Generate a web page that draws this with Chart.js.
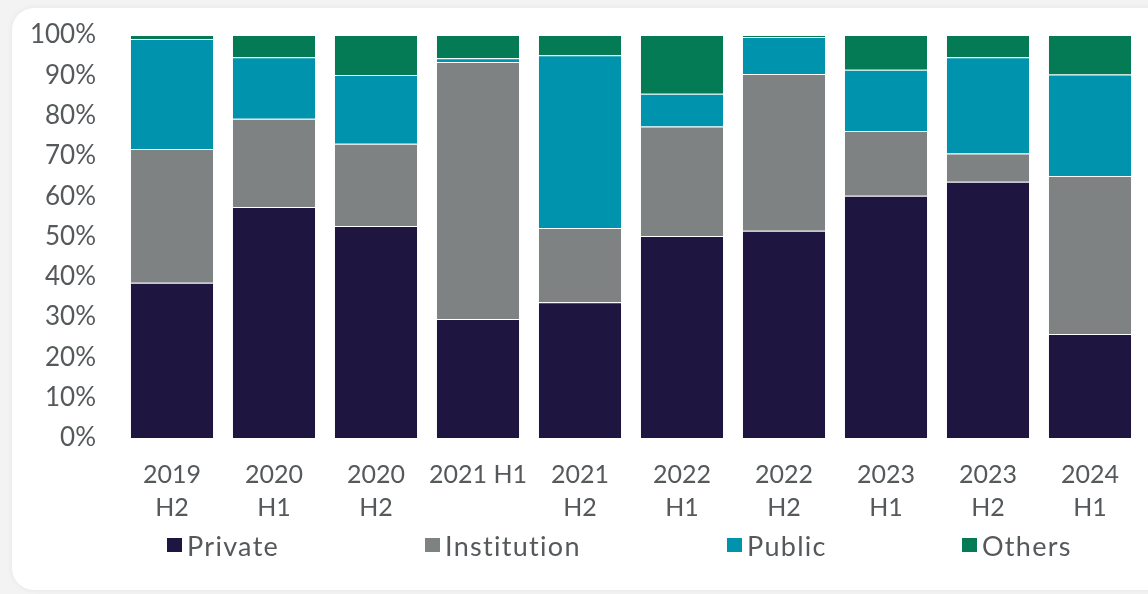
<!DOCTYPE html>
<html>
<head>
<meta charset="utf-8">
<script src="https://cdn.jsdelivr.net/npm/chart.js@4"></script>
<style>
  html, body { margin: 0; padding: 0; background: #f3f3f3; width: 1148px; height: 594px; overflow: hidden; }
  .card { position: absolute; left: 12px; top: 8px; width: 1160px; height: 582px; background: #fff; border-radius: 22px; box-shadow: 0 0 6px rgba(0,0,0,0.06); }
  .wrap { position: absolute; left: 0; top: 0; width: 1148px; height: 594px; }
  #legend { position: absolute; top: 528px; left: 0; width: 1148px; height: 34px; font-family: Lato, sans-serif; font-size: 27px; letter-spacing: 1.3px; color: #55595b; }
  #legend span.item { position: absolute; top: 0; display: flex; align-items: center; height: 34px; white-space: nowrap; }
  #legend i { display: inline-block; width: 15px; height: 14px; margin-right: 5px; }
</style>
</head>
<body>
<div class="card"></div>
<div class="wrap"><canvas id="barChart" width="1148" height="594"></canvas></div>
<div id="legend"></div>
<script>
const periods = [['2019', 'H2'], ['2020', 'H1'], ['2020', 'H2'], '2021 H1', ['2021', 'H2'],
  ['2022', 'H1'], ['2022', 'H2'], ['2023', 'H1'], ['2023', 'H2'], ['2024', 'H1']];
const privateShare     = [38.5, 57.3, 52.6, 29.5, 33.7, 50.1, 51.4, 60.1, 63.6, 25.8];
const institutionShare = [33.2, 21.9, 20.4, 63.8, 18.4, 27.2, 38.9, 16.1, 7.0, 39.2];
const publicShare      = [27.3, 15.3, 17.1, 0.9, 42.9, 8.1, 9.2, 15.2, 23.9, 25.2];
const othersShare      = [1.0, 5.5, 9.9, 5.8, 5.0, 14.6, 0.5, 8.6, 5.5, 9.8];
const legendX = [167, 425, 727, 962];

const textColor = '#55595b';
const font = { family: 'Lato', size: 25, lineHeight: 1.32 };

const ctx = document.getElementById('barChart').getContext('2d');

const makeSet = (label, data, color) => ({
  label: label,
  data: data,
  backgroundColor: color,
  borderColor: 'rgba(255,255,255,0.25)',
  borderWidth: 1,
  barPercentage: 1,
  categoryPercentage: 0.824
});

const chart = new Chart(ctx, {
  type: 'bar',
  data: {
    labels: periods,
    datasets: [
      makeSet('Private', privateShare, '#1e1641'),
      makeSet('Institution', institutionShare, '#7f8283'),
      makeSet('Public', publicShare, '#0093ad'),
      makeSet('Others', othersShare, '#047a55')
    ]
  },
  options: {
    responsive: false,
    animation: false,
    layout: { padding: { left: 0, right: 7, top: 35, bottom: 50 } },
    scales: {
      x: {
        stacked: true,
        grid: { display: false, drawTicks: false },
        border: { display: false },
        ticks: { color: textColor, font: font, padding: 20, maxRotation: 0, autoSkip: false }
      },
      y: {
        stacked: true,
        min: 0,
        max: 100,
        grid: { display: false, drawTicks: false },
        border: { display: false },
        ticks: { color: textColor, font: { family: 'Lato', size: 26 }, padding: 25, stepSize: 10, callback: (v) => v + '%' },
        afterFit: (scale) => {
          scale.width = 121;
          scale.paddingTop = 0;
          scale.paddingBottom = 0;
        }
      }
    },
    plugins: {
      tooltip: { enabled: false },
      legend: { display: false }
    }
  }
});

// legend as html, colours taken from the chart's datasets
const legendEl = document.getElementById('legend');
chart.data.datasets.forEach((ds, i) => {
  const item = document.createElement('span');
  item.className = 'item';
  item.style.left = legendX[i] + 'px';
  const box = document.createElement('i');
  box.style.background = ds.backgroundColor;
  item.appendChild(box);
  item.appendChild(document.createTextNode(ds.label));
  legendEl.appendChild(item);
});
</script>
</body>
</html>
